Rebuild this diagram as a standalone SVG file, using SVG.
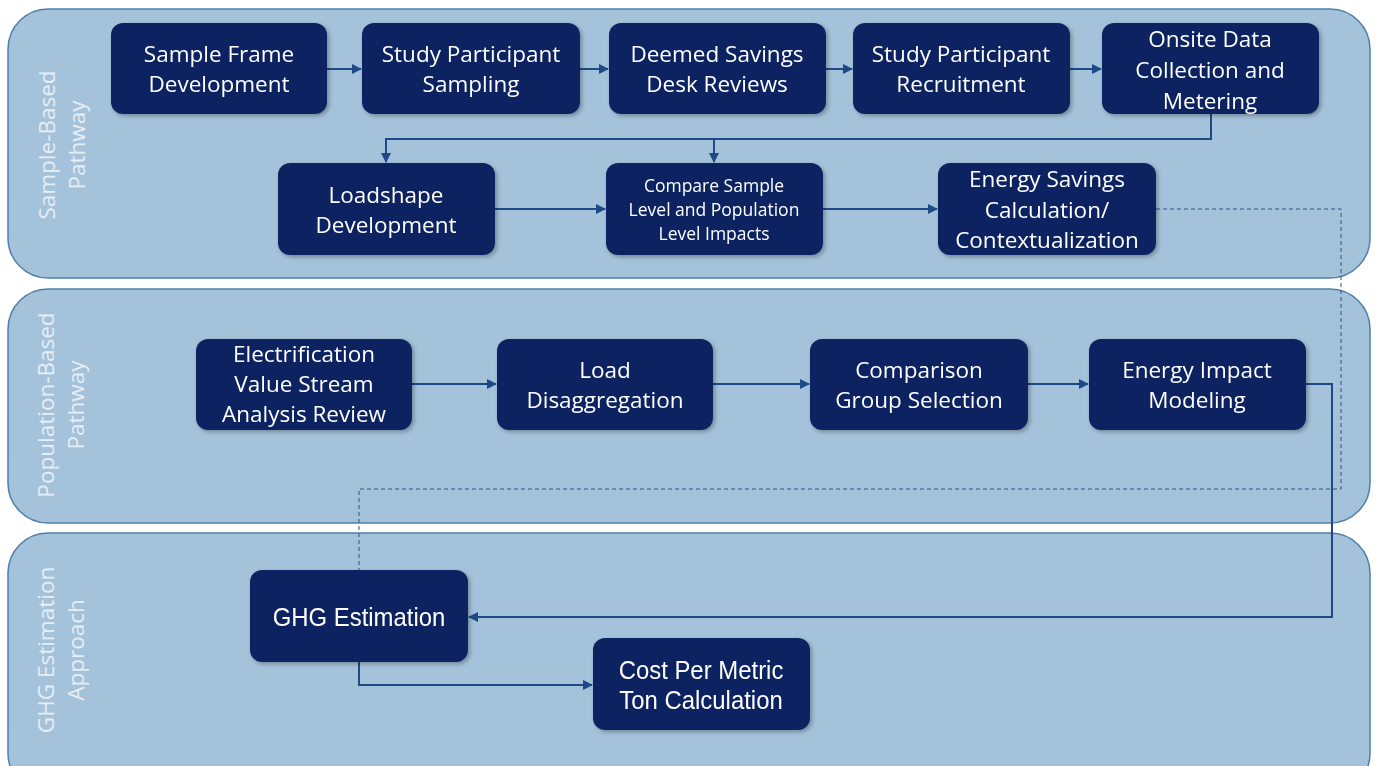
<svg xmlns="http://www.w3.org/2000/svg" width="1376" height="766" viewBox="0 0 1376 766">
  <defs>
    <style>
      .lane { fill: #a4c2da; stroke: #4f7fab; stroke-width: 1.5; }
      .lane-label { fill: #e6eef5; font-family: "Open Sans", "Liberation Sans", sans-serif; font-size: 22.5px; text-anchor: middle; }
      .box { fill: #0c2461; }
      .txt { fill: #ffffff; font-family: "Open Sans", "Liberation Sans", sans-serif; font-size: 22.5px; text-anchor: middle; }
      .txt-sm { font-size: 17.5px; }
      .txt-narrow { font-family: "Liberation Sans", sans-serif; font-size: 26px; }
      .link { fill: none; stroke: #1d4a86; stroke-width: 2; }
      .dash { fill: none; stroke: #2a5489; stroke-width: 1; stroke-dasharray: 4 3; }
    </style>
    <marker id="arrow" viewBox="0 0 10 10" refX="9" refY="5" markerWidth="5" markerHeight="5" orient="auto">
      <path d="M0,0 L10,5 L0,10 z" fill="#1d4a86"/>
    </marker>
    <filter id="shadow" x="-10%" y="-10%" width="125%" height="130%">
      <feDropShadow dx="2" dy="2" stdDeviation="2" flood-color="#000" flood-opacity="0.3"/>
    </filter>
  </defs>

  <rect width="1376" height="766" fill="#ffffff"/>

  <!-- swimlanes -->
  <g id="lane-sample">
    <rect class="lane" x="8" y="9" width="1362" height="269" rx="40"/>
    <text class="lane-label" transform="translate(63,145) rotate(-90)"><tspan x="0" y="-8">Sample-Based</tspan><tspan x="0" y="22">Pathway</tspan></text>
  </g>
  <g id="lane-population">
    <rect class="lane" x="8" y="289" width="1362" height="234" rx="40"/>
    <text class="lane-label" transform="translate(62,405) rotate(-90)"><tspan x="0" y="-8">Population-Based</tspan><tspan x="0" y="22">Pathway</tspan></text>
  </g>
  <g id="lane-ghg">
    <rect class="lane" x="8" y="533" width="1362" height="260" rx="40"/>
    <text class="lane-label" transform="translate(62,650) rotate(-90)"><tspan x="0" y="-8">GHG Estimation</tspan><tspan x="0" y="22">Approach</tspan></text>
  </g>

  <!-- connectors -->
  <g id="connectors">
    <path class="link" d="M327,69 H361" marker-end="url(#arrow)"/>
    <path class="link" d="M580,69 H608" marker-end="url(#arrow)"/>
    <path class="link" d="M826,69 H852" marker-end="url(#arrow)"/>
    <path class="link" d="M1070,69 H1101" marker-end="url(#arrow)"/>
    <path class="link" d="M1211,114 V139 H386 V162" marker-end="url(#arrow)"/>
    <path class="link" d="M714,139 V162" marker-end="url(#arrow)"/>
    <path class="link" d="M495,209 H605" marker-end="url(#arrow)"/>
    <path class="link" d="M823,209 H937" marker-end="url(#arrow)"/>
    <path class="dash" d="M1156,209 H1341 V489 H359 V570"/>
    <path class="link" d="M412,384 H496" marker-end="url(#arrow)"/>
    <path class="link" d="M713,384 H809" marker-end="url(#arrow)"/>
    <path class="link" d="M1028,384 H1088" marker-end="url(#arrow)"/>
    <path class="link" d="M1306,384 H1332 V617 H469" marker-end="url(#arrow)"/>
    <path class="link" d="M359,662 V685 H592" marker-end="url(#arrow)"/>
  </g>

  <!-- sample-based nodes -->
  <g id="n-sample-frame" filter="url(#shadow)">
    <rect class="box" x="111" y="23" width="216" height="91" rx="12"/>
    <text class="txt" x="219" y="62">Sample Frame</text>
    <text class="txt" x="219" y="92">Development</text>
  </g>
  <g id="n-participant-sampling" filter="url(#shadow)">
    <rect class="box" x="362" y="23" width="218" height="91" rx="12"/>
    <text class="txt" x="471" y="62">Study Participant</text>
    <text class="txt" x="471" y="92">Sampling</text>
  </g>
  <g id="n-desk-reviews" filter="url(#shadow)">
    <rect class="box" x="609" y="23" width="217" height="91" rx="12"/>
    <text class="txt" x="717" y="62">Deemed Savings</text>
    <text class="txt" x="717" y="92">Desk Reviews</text>
  </g>
  <g id="n-recruitment" filter="url(#shadow)">
    <rect class="box" x="853" y="23" width="217" height="91" rx="12"/>
    <text class="txt" x="961" y="62">Study Participant</text>
    <text class="txt" x="961" y="92">Recruitment</text>
  </g>
  <g id="n-onsite" filter="url(#shadow)">
    <rect class="box" x="1102" y="23" width="217" height="91" rx="12"/>
    <text class="txt" x="1210" y="47">Onsite Data</text>
    <text class="txt" x="1210" y="78">Collection and</text>
    <text class="txt" x="1210" y="109">Metering</text>
  </g>
  <g id="n-loadshape" filter="url(#shadow)">
    <rect class="box" x="278" y="163" width="217" height="92" rx="12"/>
    <text class="txt" x="386" y="203">Loadshape</text>
    <text class="txt" x="386" y="233">Development</text>
  </g>
  <g id="n-compare" filter="url(#shadow)">
    <rect class="box" x="606" y="163" width="217" height="92" rx="12"/>
    <text class="txt txt-sm" x="714" y="192">Compare Sample</text>
    <text class="txt txt-sm" x="714" y="216">Level and Population</text>
    <text class="txt txt-sm" x="714" y="240">Level Impacts</text>
  </g>
  <g id="n-energy-savings" filter="url(#shadow)">
    <rect class="box" x="938" y="163" width="218" height="92" rx="12"/>
    <text class="txt" x="1047" y="187">Energy Savings</text>
    <text class="txt" x="1047" y="218">Calculation/</text>
    <text class="txt" x="1047" y="248">Contextualization</text>
  </g>

  <!-- population-based nodes -->
  <g id="n-electrification" filter="url(#shadow)">
    <rect class="box" x="196" y="339" width="216" height="91" rx="12"/>
    <text class="txt" x="304" y="362">Electrification</text>
    <text class="txt" x="304" y="392">Value Stream</text>
    <text class="txt" x="304" y="422">Analysis Review</text>
  </g>
  <g id="n-disaggregation" filter="url(#shadow)">
    <rect class="box" x="497" y="339" width="216" height="91" rx="12"/>
    <text class="txt" x="605" y="378">Load</text>
    <text class="txt" x="605" y="408">Disaggregation</text>
  </g>
  <g id="n-comparison-group" filter="url(#shadow)">
    <rect class="box" x="810" y="339" width="218" height="91" rx="12"/>
    <text class="txt" x="919" y="378">Comparison</text>
    <text class="txt" x="919" y="408">Group Selection</text>
  </g>
  <g id="n-energy-impact" filter="url(#shadow)">
    <rect class="box" x="1089" y="339" width="217" height="91" rx="12"/>
    <text class="txt" x="1197" y="378">Energy Impact</text>
    <text class="txt" x="1197" y="408">Modeling</text>
  </g>

  <!-- GHG nodes -->
  <g id="n-ghg" filter="url(#shadow)">
    <rect class="box" x="250" y="570" width="218" height="92" rx="12"/>
    <text class="txt txt-narrow" x="359" y="626" transform="translate(359,0) scale(0.92,1) translate(-359,0)">GHG Estimation</text>
  </g>
  <g id="n-cost" filter="url(#shadow)">
    <rect class="box" x="593" y="638" width="217" height="92" rx="12"/>
    <text class="txt txt-narrow" x="701" y="679" transform="translate(701,0) scale(0.92,1) translate(-701,0)">Cost Per Metric</text>
    <text class="txt txt-narrow" x="701" y="709" transform="translate(701,0) scale(0.92,1) translate(-701,0)">Ton Calculation</text>
  </g>
</svg>
